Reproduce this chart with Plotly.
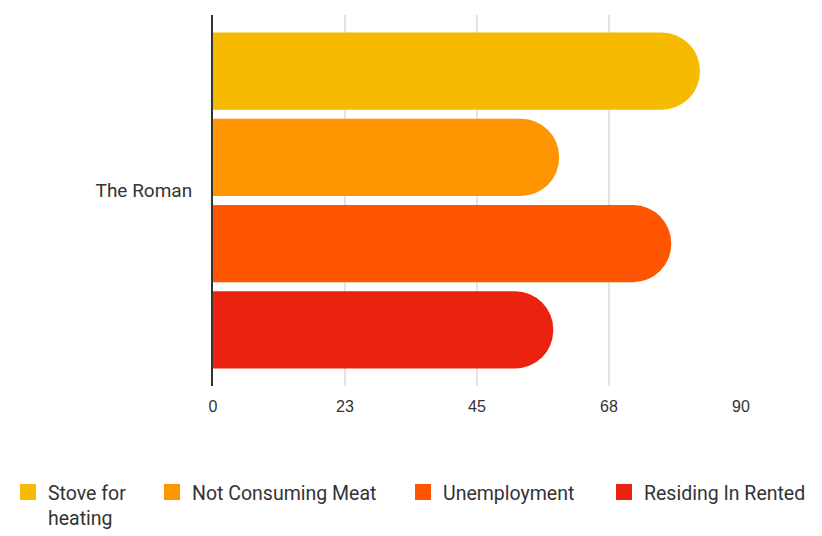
import plotly.graph_objects as go

categories = ["The Roman"]
series_names = ["Stove for<br>heating", "Not Consuming Meat", "Unemployment", "Residing In Rented"]
series_values = [[83.0], [59.0], [78.1], [58.0]]
series_colors = ["#F6BB00", "#FF9500", "#FF5500", "#EC2210"]
tick_values = [0, 22.5, 45, 67.5, 90]
tick_labels = ["0", "23", "45", "68", "90"]

legend_ids = ["legend", "legend2", "legend3", "legend4"]
legend_x_px = [0, 144, 395, 596]   # left edge of each legend entry (container px)

fig = go.Figure()
for name, vals, col in zip(series_names, series_values, series_colors):
    fig.add_trace(go.Bar(
        y=categories, x=vals, name=name, orientation="h",
        marker=dict(color=col, line=dict(width=0)),
        hoverinfo="skip", showlegend=False,
    ))
# legend entries with larger square swatches
for name, col, lid in zip(series_names, series_colors, legend_ids):
    fig.add_trace(go.Scatter(
        x=[None], y=[None], mode="markers", name=name, legend=lid,
        marker=dict(symbol="square", size=16, color=col),
        hoverinfo="skip", showlegend=True,
    ))

W = 822
legend_common = dict(
    orientation="h", xanchor="left", xref="container",
    y=-0.234, yanchor="top", valign="top",
    font=dict(size=19.5, color="#333333", family="Roboto, sans-serif"),
    itemclick=False, itemdoubleclick=False, bgcolor="rgba(0,0,0,0)",
)
layout_legends = {}
for lid, px in zip(legend_ids, legend_x_px):
    d = dict(legend_common)
    d["x"] = px / W
    layout_legends[lid] = d

fig.update_layout(
    width=822, height=536,
    margin=dict(l=205, r=89, t=7, b=158, autoexpand=False),
    paper_bgcolor="white", plot_bgcolor="white",
    barmode="group", bargap=0.07, bargroupgap=0.105,
    barcornerradius="50%",
    font=dict(family="Roboto, sans-serif", color="#333333"),
    showlegend=True,
    **layout_legends,
)
fig.update_xaxes(
    range=[0, 90], tickvals=tick_values, ticktext=tick_labels,
    showgrid=True, gridcolor="#E3E3E3", gridwidth=2,
    zeroline=False, showline=False, automargin=False,
    ticks="outside", ticklen=6, tickcolor="rgba(0,0,0,0)",
    tickfont=dict(family="Liberation Sans, Arial, sans-serif", size=16, color="#333333"),
    fixedrange=True,
)
fig.update_yaxes(
    autorange="reversed", showline=True, linecolor="#333333", linewidth=2,
    showgrid=False, zeroline=False, automargin=False,
    ticks="outside", ticklen=15, tickcolor="rgba(0,0,0,0)",
    ticklabelshift=10,
    tickfont=dict(family="Roboto, sans-serif", size=19, color="#333333"),
    fixedrange=True,
)

fig.write_html("out.html", config={"displayModeBar": False})
